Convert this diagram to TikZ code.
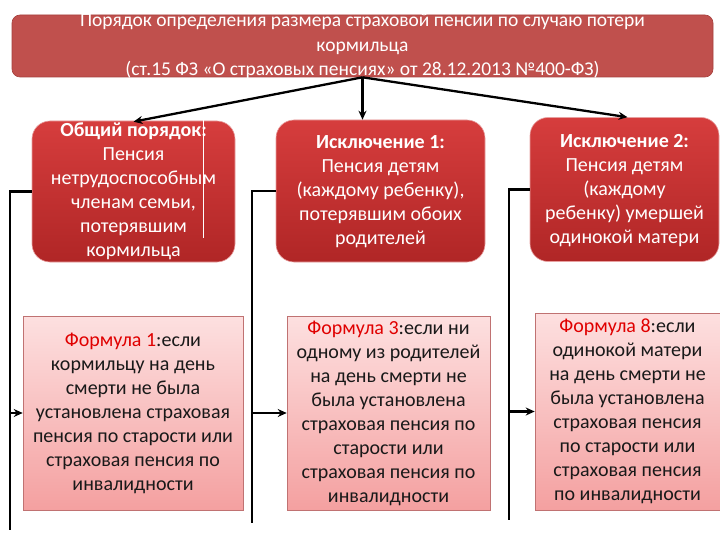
\documentclass[tikz,border=0pt]{standalone}
\usepackage{fontspec}
\setmainfont{Carlito}
\usetikzlibrary{arrows.meta}
\definecolor{titlered}{HTML}{C0504D}
\definecolor{titleedge}{HTML}{A5403D}
\definecolor{boxtop}{HTML}{D63D3D}
\definecolor{boxbot}{HTML}{B02626}
\definecolor{boxedge}{HTML}{E8A0A0}
\definecolor{pinktop}{HTML}{FDE0E0}
\definecolor{pinkbot}{HTML}{F4A0A0}
\definecolor{pinkedge}{HTML}{C07272}
\definecolor{formred}{HTML}{E00000}
\newcommand{\fred}[1]{\textcolor{formred}{#1}}
\begin{document}
\begin{tikzpicture}[x=1pt,y=-1pt,
  titlebox/.style={rounded corners=8pt, fill=titlered, draw=titleedge, line width=0.6pt, inner sep=0pt},
  redbox/.style={rounded corners=18pt, top color=boxtop, bottom color=boxbot, draw=boxedge, line width=0.6pt, inner sep=0pt},
  pinkbox/.style={top color=pinktop, bottom color=pinkbot, draw=pinkedge, line width=0.6pt, inner sep=0pt},
  txt/.style={inner sep=0pt, align=center, font=\fontsize{20}{24}\selectfont},
  wtxt/.style={txt, text=white},
  btxt/.style={txt, text=black!90},
  conn/.style={line width=2.3pt, draw=black},
  arr/.style={conn, -{Stealth[length=9pt,width=8pt]}}
]
\useasboundingbox (0,0) rectangle (720,540);
\fill[white] (0,0) rectangle (720,540);

% title
\node[titlebox, minimum width=701pt, minimum height=62pt] (title) at (362.5,46) {};
\node[wtxt, font=\fontsize{19.5}{24.5}\selectfont] (titlet) at (title.center)
  {Порядок определения размера страховой пенсии по случаю потери\\кормильца\\(ст.15 ФЗ «О страховых пенсиях» от 28.12.2013 №400-ФЗ)};

% top row
\node[redbox, minimum width=203pt, minimum height=141pt] (b1) at (133.5,191.5) {};
\node[redbox, minimum width=209pt, minimum height=142pt] (b2) at (380.5,191) {};
\node[redbox, minimum width=189pt, minimum height=144pt] (b3) at (624.5,189.5) {};
\draw[white, line width=0.8pt] (203,120) -- (203,238);

\node[wtxt] (b1t) at (b1.center) {\textbf{Общий порядок:}\\Пенсия\\нетрудоспособным\\членам семьи,\\потерявшим\\кормильца};
\node[wtxt] (b2t) at ([yshift=-1pt]b2.center) {\textbf{Исключение 1:}\\Пенсия детям\\(каждому ребенку),\\потерявшим обоих\\родителей};
\node[wtxt] (b3t) at ([yshift=-1pt]b3.center) {\textbf{Исключение 2:}\\Пенсия детям\\(каждому\\ребенку) умершей\\одинокой матери};

% bottom row
\node[pinkbox, minimum width=220pt, minimum height=194pt] (f1) at (133,413) {};
\node[pinkbox, minimum width=203pt, minimum height=194pt] (f2) at (388.5,413) {};
\node[pinkbox, minimum width=185pt, minimum height=197pt] (f3) at (627.5,411.5) {};

\node[btxt] (f1t) at (f1.center) {\fred{Формула 1}:если\\кормильцу на день\\смерти не была\\установлена страховая\\пенсия по старости или\\страховая пенсия по\\инвалидности};
\node[btxt] (f2t) at (f2.center) {\fred{Формула 3}:если ни\\одному из родителей\\на день смерти не\\была установлена\\страховая пенсия по\\старости или\\страховая пенсия по\\инвалидности};
\node[btxt] (f3t) at (f3.center) {\fred{Формула 8}:если\\одинокой матери\\на день смерти не\\была установлена\\страховая пенсия\\по старости или\\страховая пенсия\\по инвалидности};

% arrows from title
\coordinate (src) at (title.south);
\draw[arr] (src) -- ([yshift=-1pt]b1.north);
\draw[arr] (src) -- (src |- b2.north);
\draw[arr] (src) -- ([xshift=3pt]b3.north);

% side connectors
\coordinate (l1) at (10,530);
\coordinate (l2) at (252,523);
\coordinate (l3) at (509,520);
\draw[conn] (b1.west) -| (l1);
\draw[conn] (b2.west) -| (l2);
\draw[conn] (b3.west) -| (l3);
\draw[arr] (l1 |- f1.west) -- (f1.west);
\draw[arr] (l2 |- f2.west) -- (f2.west);
\draw[arr] (l3 |- f3.west) -- (f3.west);
\end{tikzpicture}
\end{document}
